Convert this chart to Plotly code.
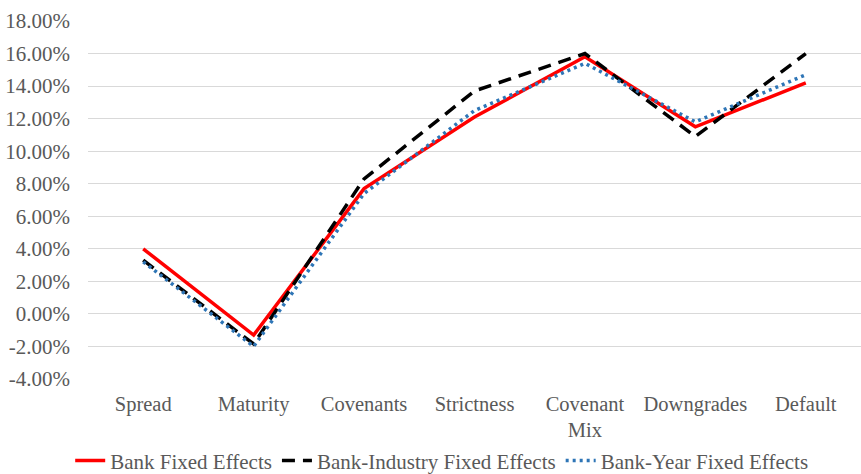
import plotly.graph_objects as go

categories = ["Spread", "Maturity", "Covenants", "Strictness", "Covenant<br>Mix", "Downgrades", "Default"]

bank_fe = [4.0, -1.3, 7.7, 12.1, 15.8, 11.5, 14.2]
bank_industry_fe = [3.3, -1.85, 8.3, 13.7, 16.0, 10.9, 16.0]
bank_year_fe = [3.2, -2.0, 7.4, 12.5, 15.4, 11.8, 14.7]

y_ticks = [-4, -2, 0, 2, 4, 6, 8, 10, 12, 14, 16, 18]
y_tick_labels = [f"{v:.2f}%" for v in y_ticks]

FONT = "Liberation Serif, Times New Roman, serif"
TEXT = "#595959"

fig = go.Figure()
fig.add_trace(go.Scatter(
    x=categories, y=bank_fe, mode="lines", name="Bank Fixed Effects",
    line=dict(color="#FF0000", width=3.5),
))
fig.add_trace(go.Scatter(
    x=categories, y=bank_industry_fe, mode="lines", name="Bank-Industry Fixed Effects",
    line=dict(color="#000000", width=3.5, dash="13px,8px"),
))
fig.add_trace(go.Scatter(
    x=categories, y=bank_year_fe, mode="lines", name="Bank-Year Fixed Effects",
    line=dict(color="#2E75B6", width=3.5, dash="3px,4px"),
))

fig.update_layout(
    width=861, height=474,
    margin=dict(l=88, r=0, t=21, b=95),
    paper_bgcolor="white", plot_bgcolor="white",
    font=dict(family=FONT, size=20, color=TEXT),
    xaxis=dict(
        type="category", range=[-0.5, 6.5], showgrid=False, zeroline=False,
        showline=False, ticks="", ticklabelstandoff=10,
        tickfont=dict(family=FONT, size=20.5, color=TEXT),
    ),
    yaxis=dict(
        range=[-4, 18], tickvals=y_ticks, ticktext=y_tick_labels,
        showgrid=True, gridcolor="#D9D9D9", gridwidth=1.3, zeroline=False,
        showline=False, ticks="", ticklabelstandoff=17,
        tickfont=dict(family=FONT, size=21, color=TEXT),
    ),
    legend=dict(
        orientation="h", xref="container", yref="container",
        x=0.513, xanchor="center", y=0.028, yanchor="middle",
        font=dict(family=FONT, size=21, color=TEXT),
        tracegroupgap=0, itemwidth=30,
    ),
    showlegend=True,
)

fig.write_html("out.html")
